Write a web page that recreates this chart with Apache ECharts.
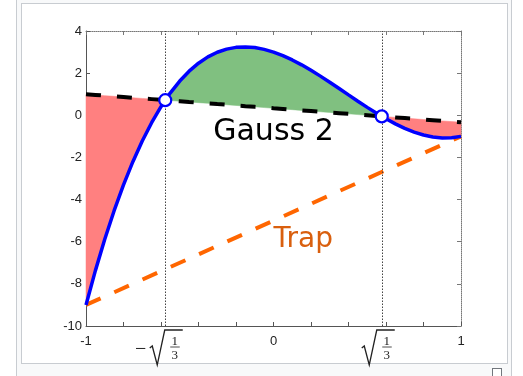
<!DOCTYPE html>
<html>
<head>
<meta charset="utf-8">
<script src="https://cdn.jsdelivr.net/npm/echarts@6/dist/echarts.min.js"></script>
<style>
html,body{margin:0;padding:0;background:#fff;overflow:hidden;}
#outer{position:absolute;left:16px;top:-2px;width:494px;height:390px;background:#f8f9fa;border:1px solid #c8ccd1;}
#inner{position:absolute;left:21px;top:3px;width:485px;height:359px;background:#fff;border:1px solid #c8ccd1;}
#icon{position:absolute;left:492px;top:368px;width:8px;height:10px;border:1px solid #72777d;background:#fff;}
#chart{position:absolute;left:0;top:0;width:523px;height:376px;}
</style>
</head>
<body>
<div id="outer"></div>
<div id="inner"></div>
<div id="icon"></div>
<div id="chart"></div>
<script>
// x positions sampled on [-1, 1] (includes the two Gauss nodes)
const xs = [-1,-0.95,-0.9,-0.85,-0.8,-0.75,-0.7,-0.65,-0.6,-0.57735,-0.55,-0.5,-0.45,-0.4,-0.35,-0.3,-0.25,-0.2,-0.15,-0.1,-0.05,0,0.05,0.1,0.15,0.2,0.25,0.3,0.35,0.4,0.45,0.5,0.55,0.57735,0.6,0.65,0.7,0.75,0.8,0.85,0.9,0.95,1];
// blue curve values
const curveY = [-9,-7.372,-5.883,-4.529,-3.304,-2.203,-1.221,-0.352,0.408,0.718,1.065,1.625,2.092,2.472,2.770,2.991,3.141,3.224,3.246,3.213,3.129,3,2.831,2.627,2.394,2.136,1.859,1.569,1.270,0.968,0.668,0.375,0.095,-0.052,-0.168,-0.408,-0.619,-0.797,-0.936,-1.031,-1.077,-1.068,-1];
// black dashed Gauss-2 line values
const gaussY = [1,0.967,0.933,0.9,0.867,0.833,0.8,0.767,0.733,0.718,0.7,0.667,0.633,0.6,0.567,0.533,0.5,0.467,0.433,0.4,0.367,0.333,0.3,0.267,0.233,0.2,0.167,0.133,0.1,0.067,0.033,0,-0.033,-0.052,-0.067,-0.1,-0.133,-0.167,-0.2,-0.233,-0.267,-0.3,-0.333];
// orange dashed trapezoid line
const trapX = [-1, 1];
const trapY = [-9, -1];
// Gauss nodes
const nodeX = [-0.57735, 0.57735];
const nodeY = [0.718, -0.052];
// annotations
const annotX = [0, 0.159];
const annotY = [-0.78, -5.92];
const annotText = ['Gauss 2', 'Trap'];
// axis ticks
const xTickLabels = ['-1', '0', '1'];
const xTickValues = [-1, 0, 1];

// split the sampled range into regions where the curve is above / below the Gauss line
const regions = [];
(function () {
  let s = 0;
  let sign = Math.sign(curveY[0] - gaussY[0]);
  for (let i = 1; i < xs.length; i++) {
    const d = Math.sign(curveY[i] - gaussY[i]);
    if (d === 0) continue;
    if (d !== sign) {
      // find the crossing index (last zero-diff point before i)
      let c = i - 1;
      regions.push({s: s, e: c, above: sign > 0});
      s = c; sign = d;
    }
  }
  regions.push({s: s, e: xs.length - 1, above: sign > 0});
})();

const chart = echarts.init(document.getElementById('chart'), null, {renderer: 'canvas'});
const labelFont = {fontFamily: 'Liberation Sans, Arial, sans-serif', fontSize: 13, color: '#222'};

function xFmt(v) {
  for (let i = 0; i < xTickValues.length; i++) {
    if (Math.abs(v - xTickValues[i]) < 1e-6) return xTickLabels[i];
  }
  return '';
}

chart.setOption({
  animation: false,
  backgroundColor: 'transparent',
  grid: {left: 86, right: 62, top: 31, bottom: 50, containLabel: false},
  xAxis: [
    {type: 'value', min: -1, max: 1, interval: 0.2, position: 'bottom',
     axisLine: {show: true, onZero: false, lineStyle: {color: '#555', width: 1}},
     axisTick: {show: true, inside: true, length: 4, lineStyle: {color: '#555'}},
     axisLabel: Object.assign({formatter: xFmt, margin: 9, showMinLabel: true, showMaxLabel: true, hideOverlap: false}, labelFont),
     splitLine: {show: false}},
    {type: 'value', min: -1, max: 1, interval: 0.2, position: 'top',
     axisLine: {show: true, onZero: false, lineStyle: {color: '#777', width: 1, type: 'dotted'}},
     axisTick: {show: true, inside: true, length: 4, lineStyle: {color: '#777'}},
     axisLabel: {show: false}, splitLine: {show: false}}
  ],
  yAxis: [
    {type: 'value', min: -10, max: 4, interval: 2, position: 'left',
     axisLine: {show: true, onZero: false, lineStyle: {color: '#555', width: 1}},
     axisTick: {show: true, inside: true, length: 4, lineStyle: {color: '#555'}},
     axisLabel: Object.assign({margin: 4, showMinLabel: true, showMaxLabel: true, hideOverlap: false}, labelFont),
     splitLine: {show: false}},
    {type: 'value', min: -10, max: 4, interval: 2, position: 'right',
     axisLine: {show: true, onZero: false, lineStyle: {color: '#777', width: 1, type: 'dotted'}},
     axisTick: {show: true, inside: true, length: 4, lineStyle: {color: '#777'}},
     axisLabel: {show: false}, splitLine: {show: false}}
  ],
  series: [
    {type: 'custom', name: 'fills', z: 1, silent: true,
     data: regions.map(r => [xs[r.s], xs[r.e], r.above ? 1 : 0]),
     encode: {x: [0, 1]},
     renderItem: function (params, api) {
       const r = regions[params.dataIndex];
       const pts = [];
       for (let i = r.s; i <= r.e; i++) pts.push(api.coord([xs[i], curveY[i]]));
       for (let i = r.e; i >= r.s; i--) pts.push(api.coord([xs[i], gaussY[i]]));
       const c = r.above ? '#80c080' : '#ff8080';
       return {type: 'polygon', shape: {points: pts}, style: {fill: c, stroke: c, lineWidth: 0.5}};
     },
     markLine: {silent: true, symbol: 'none', label: {show: false},
       lineStyle: {color: '#444', width: 1, type: [1.5, 1.5]},
       data: nodeX.map(x => ({xAxis: x}))}},
    {type: 'line', name: 'gauss', data: xs.map((x, i) => [x, gaussY[i]]), showSymbol: false,
     lineStyle: {color: '#000', width: 4, type: [15, 16], cap: 'butt'}, z: 3},
    {type: 'line', name: 'trap', data: trapX.map((x, i) => [x, trapY[i]]), showSymbol: false,
     lineStyle: {color: '#ff6600', width: 4, type: [16, 15], cap: 'butt'}, z: 3},
    {type: 'line', name: 'curve', data: xs.map((x, i) => [x, curveY[i]]), showSymbol: false,
     lineStyle: {color: '#0000ff', width: 3.5}, z: 4},
    {type: 'scatter', name: 'nodes', data: nodeX.map((x, i) => [x, nodeY[i]]), symbol: 'circle', symbolSize: 12,
     itemStyle: {color: '#fff', borderColor: '#0000ff', borderWidth: 2.2, opacity: 1}, z: 5},
    {type: 'scatter', name: 'annot', z: 6, silent: true, symbolSize: 0,
     itemStyle: {opacity: 1},
     data: [
       {value: [annotX[0], annotY[0], annotText[0]], label: {fontSize: 30, color: '#000'}},
       {value: [annotX[1], annotY[1], annotText[1]], label: {fontSize: 28, color: '#d95f0e'}}
     ],
     label: {show: true, position: 'inside', formatter: p => p.value[2], opacity: 1,
       fontFamily: 'DejaVu Sans, sans-serif', textBorderWidth: 0}}
  ]
});

// radical labels for ±sqrt(1/3) under the x axis
const els = [];
nodeX.forEach((x, k) => {
  const p = chart.convertToPixel({xAxisIndex: 0, yAxisIndex: 0}, [x, -10]);
  const tx = p[0] + (k === 0 ? -0.5 : -5);
  const ty = p[1] + 4;
  if (k === 0) {
    els.push({type: 'text', silent: true, style: {text: '\u2212', x: tx - 24, y: ty + 20, font: '20px "Liberation Serif", serif', fill: '#222', align: 'center', verticalAlign: 'middle'}});
  }
  els.push({type: 'polyline', silent: true, shape: {points: [[tx - 15, ty + 18], [tx - 12.5, ty + 16], [tx - 7.5, ty + 35], [tx, ty], [tx + 18, ty]]},
    style: {stroke: '#222', lineWidth: 1.3, fill: null}});
  els.push({type: 'text', silent: true, style: {text: '1', x: tx + 10, y: ty + 11.5, font: '13px "Liberation Serif", serif', fill: '#222', align: 'center', verticalAlign: 'middle'}});
  els.push({type: 'line', silent: true, shape: {x1: tx + 5.5, y1: ty + 17, x2: tx + 15, y2: ty + 17}, style: {stroke: '#222', lineWidth: 0.8}});
  els.push({type: 'text', silent: true, style: {text: '3', x: tx + 10, y: ty + 26, font: '13px "Liberation Serif", serif', fill: '#222', align: 'center', verticalAlign: 'middle'}});
});
chart.setOption({graphic: {elements: els}});
</script>
</body>
</html>
